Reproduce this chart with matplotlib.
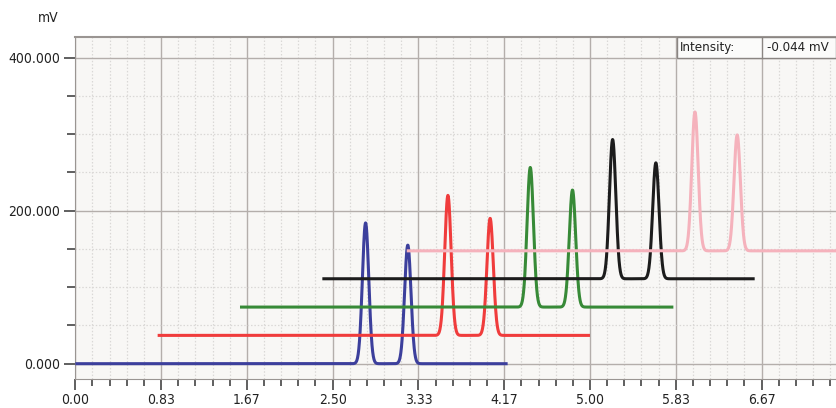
import numpy as np
import matplotlib
matplotlib.use("Agg")
import matplotlib.pyplot as plt
from matplotlib.ticker import MultipleLocator, FixedLocator
from matplotlib.patches import Rectangle

plt.rcParams['font.family'] = ['DejaVu Sans']
plt.rcParams['font.stretch'] = 'condensed'

# tracce del cromatogramma
colori = ['#3c3f9c', '#f03c3c', '#378a37', '#1c1c1c', '#f5b2bc']
inizio = [0.00, 0.80, 1.60, 2.40, 3.22]
fine = [4.20, 5.00, 5.81, 6.60, 7.45]
linea_base = [0.0, 37.0, 74.0, 111.0, 147.5]
picco1_t = [2.82, 3.62, 4.42, 5.22, 6.02]
picco1_h = [184.0, 220.0, 256.5, 293.0, 329.0]
picco2_t = [3.23, 4.03, 4.83, 5.64, 6.43]
picco2_h = [155.0, 190.0, 227.0, 262.5, 299.0]
larghezza = 0.031

x_ticks = [0.0, 5/6, 10/6, 15/6, 20/6, 25/6, 30/6, 35/6, 40/6]
x_labels = ['0.00', '0.83', '1.67', '2.50', '3.33', '4.17', '5.00', '5.83', '6.67']
y_ticks = [0, 200, 400]
y_labels = ['0.000', '200.000', '400.000']

fig = plt.figure(figsize=(8.36, 4.08), dpi=100)
ax = fig.add_axes([75.3/836, 29/408, 1 - 75.3/836, (379 - 37)/408])
ax.set_facecolor('#f8f7f5')

for c, t0, t1, b, p1, h1, p2, h2 in zip(colori, inizio, fine, linea_base,
                                        picco1_t, picco1_h, picco2_t, picco2_h):
    t = np.linspace(t0, t1, 2000)
    y = (b + (h1 - b) * np.exp(-0.5 * ((t - p1) / larghezza) ** 2)
           + (h2 - b) * np.exp(-0.5 * ((t - p2) / larghezza) ** 2))
    ax.plot(t, y, color=c, lw=2.2, solid_capstyle='butt', zorder=3)

ax.set_xlim(0, 7.39)
ax.set_ylim(-20, 427)

ax.xaxis.set_major_locator(FixedLocator(x_ticks))
ax.set_xticklabels(x_labels)
ax.xaxis.set_minor_locator(MultipleLocator(1/6))
ax.yaxis.set_major_locator(FixedLocator(y_ticks))
ax.set_yticklabels(y_labels)
ax.yaxis.set_minor_locator(MultipleLocator(50))

ax.grid(which='major', color='#b4aeab', lw=1.0, ls='-', zorder=1)
ax.grid(which='minor', color='#dad8d6', lw=0.9, ls=(0, (1.2, 1.5)), zorder=1)
ax.set_axisbelow(True)

ax.tick_params(axis='both', which='major', direction='out', length=8, width=1.2,
               color='#444444', labelsize=10, labelcolor='#222222')
ax.tick_params(axis='x', which='minor', direction='out', length=5, width=1.2, color='#444444')
ax.tick_params(axis='y', which='minor', direction='out', length=6, width=1.2, color='#444444')
ax.tick_params(axis='x', pad=2)
ax.tick_params(axis='y', pad=3)

for s in ['top', 'right']:
    ax.spines[s].set_visible(False)
ax.spines['left'].set_color('#9a9592')
ax.spines['bottom'].set_color('#9a9592')
ax.axhline(427, color='#9a9592', lw=1.5, zorder=4, clip_on=False)

fig.text(48/836, 1 - 18/408, 'mV', fontsize=10, ha='center', va='center', color='#222222')

# riquadro intensita
x_a = (677 - 75.3) / 760.7
x_b = (762 - 75.3) / 760.7
y_a = (379 - 58) / 342
ax.add_patch(Rectangle((x_a, y_a), 1 - x_a, 1 - y_a, transform=ax.transAxes,
                       facecolor='#fbfbfa', edgecolor='#8a8582', lw=1.0, zorder=5))
ax.plot([x_b, x_b], [y_a, 1], transform=ax.transAxes, color='#8a8582', lw=1.0, zorder=6)
ax.text(x_a + 0.004, (y_a + 1) / 2, 'Intensity:', transform=ax.transAxes,
        fontsize=9.5, va='center', ha='left', color='#222222', zorder=7)
ax.text(x_b + 0.006, (y_a + 1) / 2, '-0.044 mV', transform=ax.transAxes,
        fontsize=9.5, va='center', ha='left', color='#222222', zorder=7)

fig.savefig('out.png', dpi=100, facecolor='white')
